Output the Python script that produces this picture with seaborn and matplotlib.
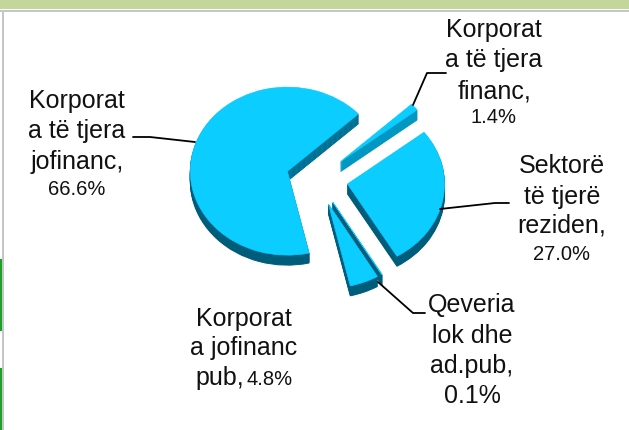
import matplotlib
matplotlib.use("Agg")
import matplotlib.pyplot as plt
import seaborn as sns
from matplotlib.lines import Line2D
from matplotlib.patches import Rectangle, Wedge

# --- data ---
shares = [66.6, 4.8, 0.1, 27.0, 1.4]
label_lines = [
    ["Korporat", "a të tjera", "jofinanc,", "66.6%"],
    ["Korporat", "a jofinanc"],
    ["Qeveria", "lok dhe", "ad.pub,", "0.1%"],
    ["Sektorë", "të tjerë", "reziden,", "27.0%"],
    ["Korporat", "a të tjera", "financ,", "1.4%"],
]

# --- style ---
W, H = 629, 430
TOP = "#0CCDFF"
DARK = "#005C7B"
MID = "#0098C2"
rim_colors = [DARK, DARK, DARK, DARK, MID]
EXPLODE = [0.32] * 5
DEPTH = 10

sns.set_theme(style="white")
plt.rcParams["font.family"] = ["Liberation Sans", "DejaVu Sans"]

fig = plt.figure(figsize=(W / 100, H / 100), dpi=100, facecolor="white")
ax = fig.add_axes([0, 0, 1, 1])

# pie centre and radii in pixels; unequal radii give the tilted look
cx, cy, rx, ry = 317, 179, 97, 84


def draw_pie(colors, dy=0.0, lw=0.0):
    wedges, _ = ax.pie(shares, explode=EXPLODE, startangle=43, colors=colors,
                       center=(0, -dy / ry), radius=1,
                       wedgeprops={"linewidth": lw})
    # outline each slice in its own colour so thin slivers stay solid
    for w, c in zip(wedges, colors):
        w.set_edgecolor(c)
    return wedges


# side walls, one pixel per layer
for d in range(DEPTH, 0, -1):
    rim = draw_pie(rim_colors, dy=d, lw=0.7)
    # the cut face of the big slice catches more light than its curved edge
    big = rim[0]
    lit = Wedge(big.center, big.r, big.theta1, big.theta2, color=MID, lw=0)
    ax.add_patch(lit)
    lit.set_clip_path(Rectangle((big.center[0], big.center[1]), 3, 3,
                                transform=ax.transData))

draw_pie(sns.color_palette([TOP] * 5), lw=0.5)

ax.set_aspect("auto")
ax.set_xlim(-cx / rx, (W - cx) / rx)
ax.set_ylim(-(H - cy) / ry, cy / ry)
ax.axis("off")


def px(x, y):
    return x / W, 1 - y / H


# page furniture around the chart
fig.add_artist(Rectangle((0, 1 - 9 / H), 1, 9 / H, transform=fig.transFigure,
                         color="#C4D79B", lw=0))
fig.add_artist(Rectangle((0, 1 - 12 / H), 1, 2 / H, transform=fig.transFigure,
                         color="#C6C6C6", lw=0))
fig.add_artist(Rectangle((2 / W, 0), 2 / W, 1 - 10 / H, transform=fig.transFigure,
                         color="#C6C6C6", lw=0))
for y0, y1 in [(259, 331), (368, 430)]:
    fig.add_artist(Rectangle((0, 1 - y1 / H), 2 / W, (y1 - y0) / H,
                             transform=fig.transFigure, color="#1FA02A", lw=0))

# leader lines
leaders = [
    [(133, 137), (150, 137), (195, 142)],
    [(446, 73), (427, 73), (413, 105)],
    [(509, 203), (495, 203), (440, 209)],
    [(425, 313), (413, 313), (378, 282)],
]
for pts in leaders:
    xs, ys = zip(*[px(*p) for p in pts])
    fig.add_artist(Line2D(xs, ys, color="black", lw=1.3,
                          transform=fig.transFigure))

# label text, placed by baseline
label_pos = [
    (77, [108, 138, 169, 195]),
    (244, [326, 355]),
    (472, [312, 343, 373, 403]),
    (562, [173, 204, 233, 260]),
    (494, [37, 67, 98, 123]),
]
small_lines = {"66.6%", "27.0%", "1.4%"}
BIG, SMALL = 18, 14.5
for lines, (x, ys) in zip(label_lines, label_pos):
    for line, y in zip(lines, ys):
        size = SMALL if line in small_lines else BIG
        fig.text(*px(x, y), line, ha="center", va="baseline", fontsize=size,
                 color="#111111")

# this line mixes two sizes
fig.text(*px(195, 385), "pub,", ha="left", va="baseline", fontsize=BIG,
         color="#111111")
fig.text(*px(293, 385), "4.8%", ha="right", va="baseline", fontsize=SMALL,
         color="#111111")

plt.savefig("out.png", dpi=100)
